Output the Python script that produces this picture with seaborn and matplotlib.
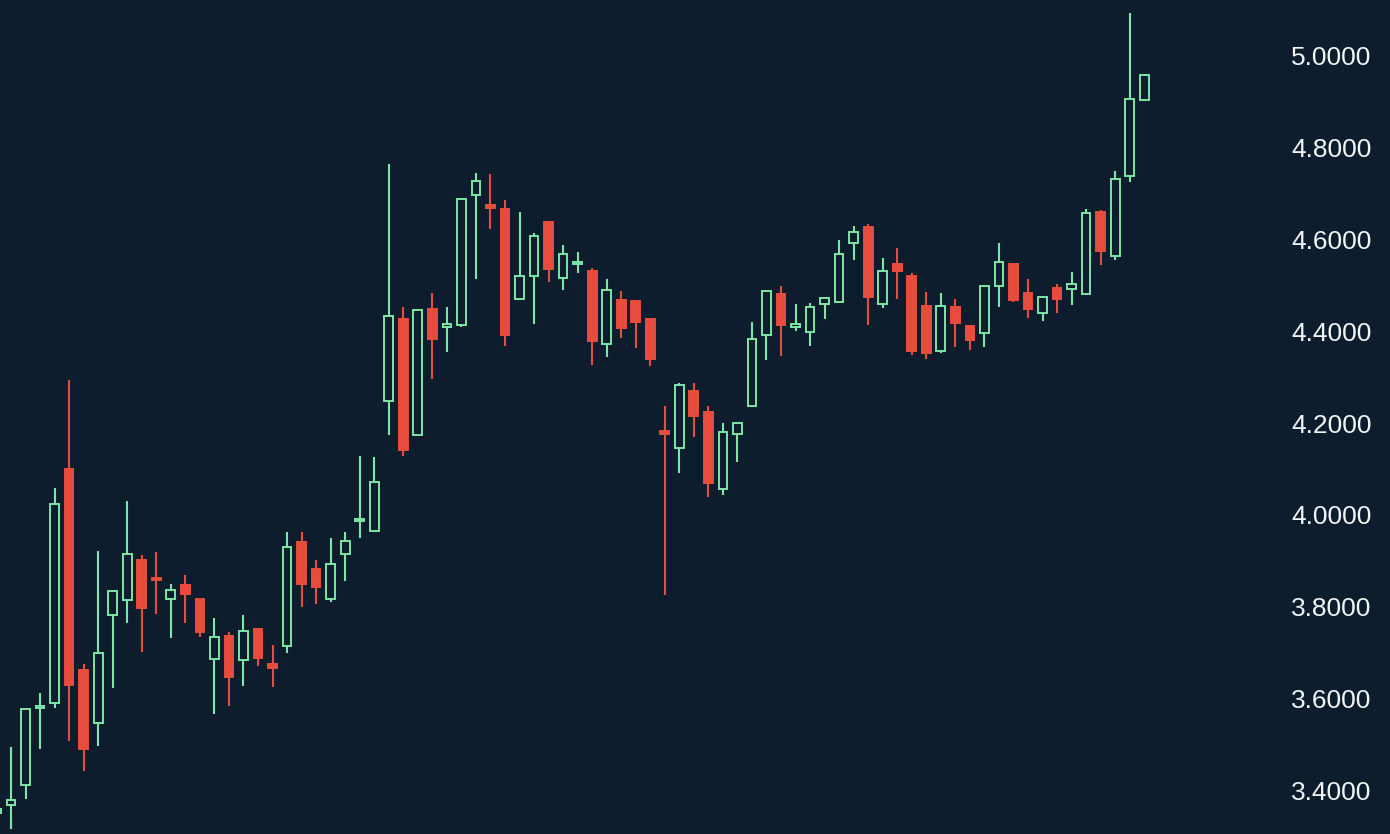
import matplotlib
import matplotlib.pyplot as plt
import numpy as np
import seaborn as sns
from matplotlib.ticker import FormatStrFormatter

matplotlib.use("Agg")

BG_COLOR = "#0e1d2d"
UP_COLOR = "#7ee6a6"
DOWN_COLOR = "#e84c3d"
TEXT_COLOR = "#f2f4f6"

# OHLC values, one entry per candle
OPEN = [
    3.353, 3.370, 3.412, 3.580, 3.591, 4.099, 3.664, 3.547, 3.782, 3.815,
    3.902, 3.863, 3.817, 3.847, 3.817, 3.686, 3.737, 3.684, 3.753, 3.676,
    3.716, 3.941, 3.882, 3.817, 3.915, 3.987, 3.966, 4.248, 4.426, 4.174,
    4.447, 4.409, 4.412, 4.696, 4.675, 4.665, 4.469, 4.520, 4.637, 4.515,
    4.546, 4.530, 4.372, 4.468, 4.465, 4.426, 4.182, 4.146, 4.270, 4.224,
    4.057, 4.177, 4.238, 4.391, 4.480, 4.409, 4.398, 4.458, 4.464, 4.592,
    4.626, 4.459, 4.546, 4.519, 4.455, 4.357, 4.453, 4.410, 4.396, 4.497,
    4.546, 4.483, 4.440, 4.493, 4.492, 4.480, 4.659, 4.564, 4.737, 4.902,
]
CLOSE = [
    3.361, 3.380, 3.578, 3.585, 4.025, 3.630, 3.491, 3.699, 3.834, 3.915,
    3.798, 3.858, 3.837, 3.829, 3.745, 3.734, 3.647, 3.747, 3.689, 3.667,
    3.930, 3.851, 3.844, 3.893, 3.944, 3.992, 4.072, 4.432, 4.141, 4.445,
    4.383, 4.416, 4.688, 4.727, 4.667, 4.392, 4.520, 4.607, 4.535, 4.567,
    4.551, 4.379, 4.489, 4.406, 4.420, 4.339, 4.176, 4.283, 4.215, 4.070,
    4.181, 4.200, 4.382, 4.487, 4.412, 4.415, 4.452, 4.472, 4.567, 4.615,
    4.475, 4.530, 4.531, 4.356, 4.352, 4.454, 4.418, 4.380, 4.497, 4.551,
    4.467, 4.448, 4.475, 4.470, 4.502, 4.656, 4.575, 4.730, 4.904, 4.957,
]
HIGH = [
    3.370, 3.496, 3.580, 3.614, 4.059, 4.293, 3.676, 3.922, 3.835, 4.030,
    3.912, 3.920, 3.851, 3.869, 3.818, 3.777, 3.745, 3.782, 3.755, 3.717,
    3.963, 3.962, 3.902, 3.950, 3.963, 4.128, 4.126, 4.762, 4.453, 4.447,
    4.482, 4.453, 4.690, 4.744, 4.741, 4.685, 4.658, 4.612, 4.638, 4.588,
    4.571, 4.538, 4.513, 4.488, 4.466, 4.427, 4.238, 4.288, 4.288, 4.237,
    4.201, 4.201, 4.420, 4.488, 4.498, 4.459, 4.460, 4.475, 4.598, 4.628,
    4.633, 4.558, 4.581, 4.527, 4.485, 4.483, 4.469, 4.411, 4.498, 4.591,
    4.547, 4.512, 4.476, 4.502, 4.528, 4.665, 4.663, 4.747, 5.091, 4.957,
]
LOW = [
    3.340, 3.317, 3.383, 3.491, 3.581, 3.509, 3.443, 3.498, 3.623, 3.766,
    3.702, 3.785, 3.733, 3.766, 3.735, 3.567, 3.585, 3.629, 3.672, 3.627,
    3.699, 3.801, 3.807, 3.810, 3.857, 3.951, 3.964, 4.174, 4.128, 4.172,
    4.295, 4.354, 4.409, 4.512, 4.621, 4.368, 4.469, 4.415, 4.507, 4.489,
    4.527, 4.326, 4.343, 4.385, 4.362, 4.325, 3.825, 4.092, 4.169, 4.040,
    4.043, 4.116, 4.234, 4.338, 4.346, 4.399, 4.368, 4.427, 4.460, 4.554,
    4.412, 4.450, 4.469, 4.348, 4.340, 4.352, 4.365, 4.358, 4.365, 4.452,
    4.464, 4.428, 4.422, 4.440, 4.457, 4.479, 4.543, 4.555, 4.723, 4.902,
]
Y_TICKS = [3.4, 3.6, 3.8, 4.0, 4.2, 4.4, 4.6, 4.8, 5.0]


def build_figure():
    sns.set_theme(style="dark", rc={
        "axes.facecolor": BG_COLOR,
        "figure.facecolor": BG_COLOR,
        "axes.grid": False,
    })
    plt.rcParams["font.family"] = ["Liberation Sans", "DejaVu Sans"]

    fig = plt.figure(figsize=(13.9, 8.34), dpi=100)
    ax = fig.add_axes([0, 0, 1275 / 1390, 1])
    return fig, ax


def draw_candles(ax):
    opens = np.array(OPEN)
    closes = np.array(CLOSE)
    highs = np.array(HIGH)
    lows = np.array(LOW)
    positions = np.arange(len(opens))
    rising = closes >= opens
    colors = np.where(rising, UP_COLOR, DOWN_COLOR)

    # wicks first, bodies on top so hollow bodies hide the wick
    ax.vlines(positions, lows, highs, colors=colors, linewidth=1.5, zorder=2)

    bottoms = np.minimum(opens, closes)
    heights = np.abs(closes - opens)
    faces = np.where(rising, BG_COLOR, DOWN_COLOR)
    ax.bar(positions, heights, bottom=bottoms, width=0.6, color=faces,
           edgecolor=colors, linewidth=1.4, zorder=3)


def style_axes(ax):
    ax.set_xlim(0.243, 88.0)
    ax.set_ylim(3.3065, 5.1196)
    ax.set_xticks([])
    ax.yaxis.tick_right()
    ax.set_yticks(Y_TICKS)
    ax.yaxis.set_major_formatter(FormatStrFormatter("%.4f"))
    ax.tick_params(axis="y", length=0, pad=11.5, labelsize=19, labelcolor=TEXT_COLOR)
    sns.despine(ax=ax, left=True, bottom=True, top=True, right=True)


def main():
    fig, ax = build_figure()
    draw_candles(ax)
    style_axes(ax)
    fig.savefig("out.png", dpi=100, facecolor=BG_COLOR)
    plt.close(fig)


if __name__ == "__main__":
    main()
